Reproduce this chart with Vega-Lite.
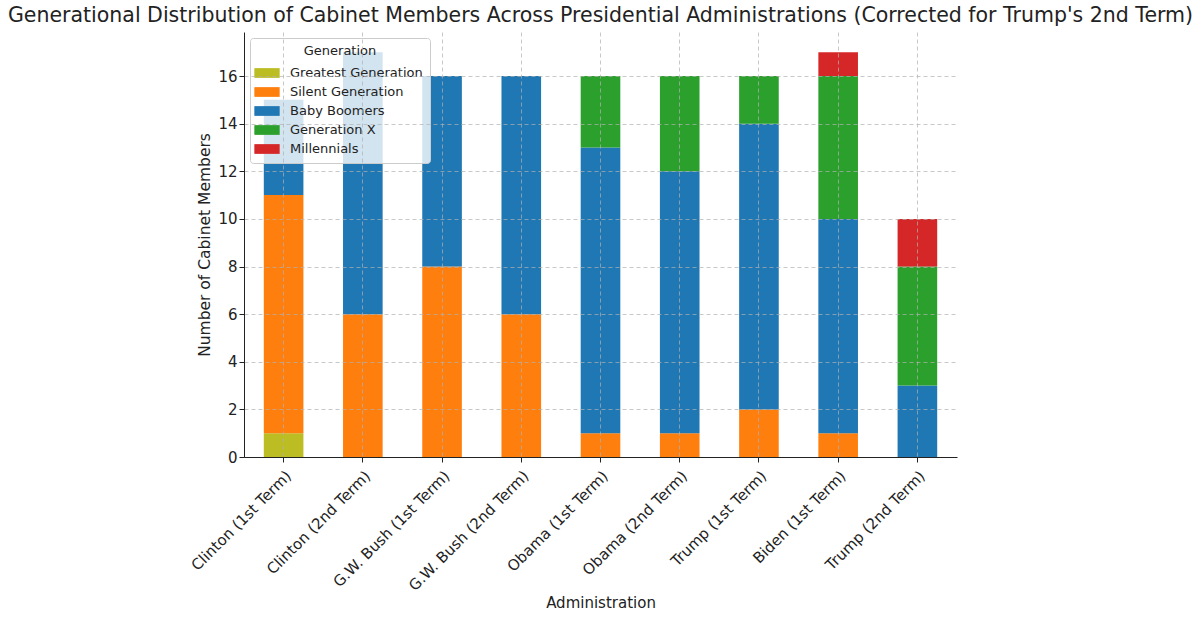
{
  "$schema": "https://vega.github.io/schema/vega-lite/v6.json",
  "width": 713,
  "height": 425,
  "autosize": "none",
  "padding": {"left": 244, "top": 32, "right": 243, "bottom": 162},
  "background": "white",
  "config": {
    "font": "DejaVu Sans",
    "view": {"stroke": null},
    "axis": {"labelFont": "DejaVu Sans", "titleFont": "DejaVu Sans", "labelColor": "#222", "titleColor": "#222"}
  },
  "title": {
    "text": "Generational Distribution of Cabinet Members Across Presidential Administrations (Corrected for Trump's 2nd Term)",
    "fontSize": 20.5,
    "fontWeight": "normal",
    "color": "#222",
    "anchor": "middle",
    "offset": 6
  },
  "data": {
    "values": [
      {"administration": "Clinton (1st Term)", "generation": "Greatest Generation", "generation_order": 1, "members": 1},
      {"administration": "Clinton (1st Term)", "generation": "Silent Generation", "generation_order": 2, "members": 10},
      {"administration": "Clinton (1st Term)", "generation": "Baby Boomers", "generation_order": 3, "members": 4},
      {"administration": "Clinton (2nd Term)", "generation": "Silent Generation", "generation_order": 2, "members": 6},
      {"administration": "Clinton (2nd Term)", "generation": "Baby Boomers", "generation_order": 3, "members": 11},
      {"administration": "G.W. Bush (1st Term)", "generation": "Silent Generation", "generation_order": 2, "members": 8},
      {"administration": "G.W. Bush (1st Term)", "generation": "Baby Boomers", "generation_order": 3, "members": 8},
      {"administration": "G.W. Bush (2nd Term)", "generation": "Silent Generation", "generation_order": 2, "members": 6},
      {"administration": "G.W. Bush (2nd Term)", "generation": "Baby Boomers", "generation_order": 3, "members": 10},
      {"administration": "Obama (1st Term)", "generation": "Silent Generation", "generation_order": 2, "members": 1},
      {"administration": "Obama (1st Term)", "generation": "Baby Boomers", "generation_order": 3, "members": 12},
      {"administration": "Obama (1st Term)", "generation": "Generation X", "generation_order": 4, "members": 3},
      {"administration": "Obama (2nd Term)", "generation": "Silent Generation", "generation_order": 2, "members": 1},
      {"administration": "Obama (2nd Term)", "generation": "Baby Boomers", "generation_order": 3, "members": 11},
      {"administration": "Obama (2nd Term)", "generation": "Generation X", "generation_order": 4, "members": 4},
      {"administration": "Trump (1st Term)", "generation": "Silent Generation", "generation_order": 2, "members": 2},
      {"administration": "Trump (1st Term)", "generation": "Baby Boomers", "generation_order": 3, "members": 12},
      {"administration": "Trump (1st Term)", "generation": "Generation X", "generation_order": 4, "members": 2},
      {"administration": "Biden (1st Term)", "generation": "Silent Generation", "generation_order": 2, "members": 1},
      {"administration": "Biden (1st Term)", "generation": "Baby Boomers", "generation_order": 3, "members": 9},
      {"administration": "Biden (1st Term)", "generation": "Generation X", "generation_order": 4, "members": 6},
      {"administration": "Biden (1st Term)", "generation": "Millennials", "generation_order": 5, "members": 1},
      {"administration": "Trump (2nd Term)", "generation": "Baby Boomers", "generation_order": 3, "members": 3},
      {"administration": "Trump (2nd Term)", "generation": "Generation X", "generation_order": 4, "members": 5},
      {"administration": "Trump (2nd Term)", "generation": "Millennials", "generation_order": 5, "members": 2}
    ]
  },
  "mark": {"type": "bar"},
  "encoding": {
    "x": {
      "field": "administration",
      "type": "nominal",
      "sort": null,
      "scale": {"paddingInner": 0.5, "paddingOuter": 0.25},
      "axis": {
        "title": "Administration",
        "titleFontSize": 15,
        "titleFontWeight": "normal",
        "titlePadding": 2,
        "labelFontSize": 15,
        "labelAngle": -45,
        "labelPadding": 6,
        "domainColor": "#222",
        "tickColor": "#222",
        "tickSize": 5,
        "grid": true,
        "gridColor": "#b0b0b0",
        "gridDash": [4, 3],
        "gridOpacity": 0.7,
        "zindex": 1
      }
    },
    "y": {
      "field": "members",
      "type": "quantitative",
      "stack": "zero",
      "scale": {"domain": [0, 17.85], "nice": false},
      "axis": {
        "title": "Number of Cabinet Members",
        "titleFontSize": 15.5,
        "titleFontWeight": "normal",
        "titlePadding": 5,
        "labelFontSize": 15,
        "values": [0, 2, 4, 6, 8, 10, 12, 14, 16],
        "domainColor": "#222",
        "tickColor": "#222",
        "tickSize": 5,
        "grid": true,
        "gridColor": "#b0b0b0",
        "gridDash": [4, 3],
        "gridOpacity": 0.7,
        "zindex": 1
      }
    },
    "order": {"field": "generation_order", "type": "quantitative", "sort": "ascending"},
    "color": {
      "field": "generation",
      "type": "nominal",
      "scale": {
        "domain": ["Greatest Generation", "Silent Generation", "Baby Boomers", "Generation X", "Millennials"],
        "range": ["#bcbd22", "#ff7f0e", "#1f77b4", "#2ca02c", "#d62728"]
      },
      "legend": {
        "title": "Generation",
        "orient": "none",
        "legendX": 6,
        "legendY": 6,
        "titleFontSize": 13,
        "titleFontWeight": "normal",
        "titleAnchor": "middle",
        "titleColor": "#222",
        "labelFontSize": 13,
        "labelColor": "#222",
        "labelOffset": 13,
        "symbolType": "M-1.3,-0.5H1.3V0.5H-1.3Z",
        "symbolSize": 380,
        "symbolStrokeWidth": 0,
        "rowPadding": 2,
        "padding": 7,
        "fillColor": "rgba(255,255,255,0.8)",
        "strokeColor": "#cccccc",
        "cornerRadius": 3
      }
    }
  }
}
